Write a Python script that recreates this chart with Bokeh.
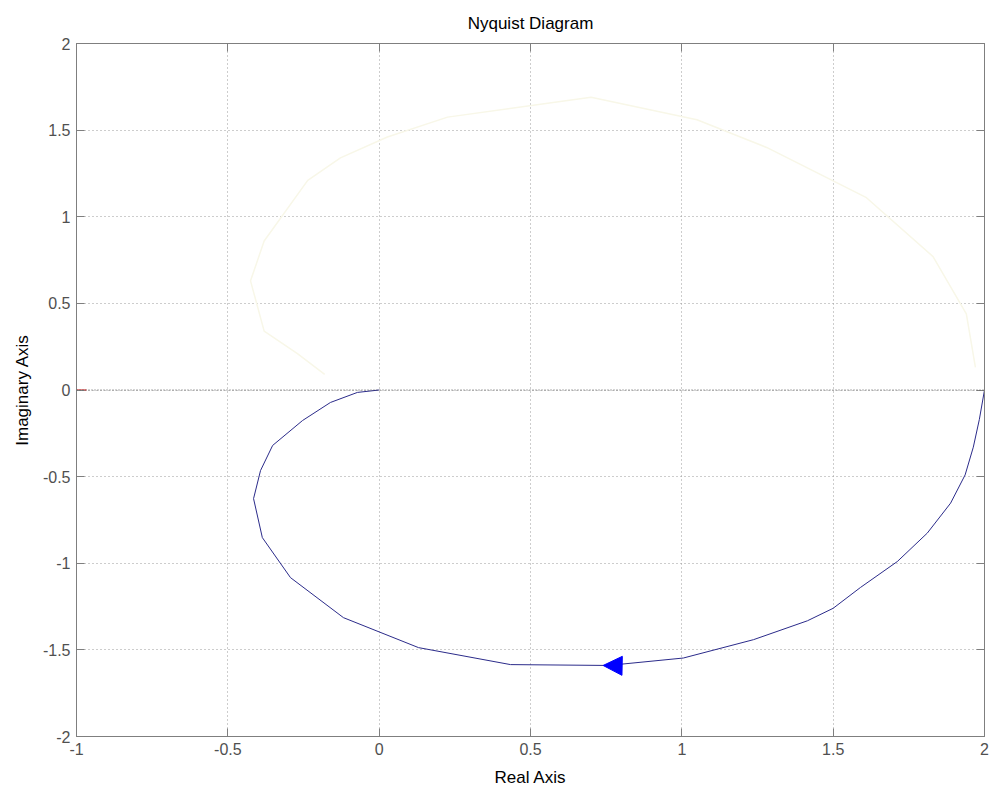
from bokeh.plotting import figure
from bokeh.models import Range1d, LinearAxis, FixedTicker, Arrow, NormalHead, Span
from bokeh.embed import file_html
from bokeh.resources import INLINE

# Nyquist curve (positive frequencies), real and imaginary parts
re_pos = [2.0, 1.983, 1.963, 1.936, 1.888, 1.811, 1.712, 1.59, 1.50, 1.415, 1.237,
          1.005, 0.757, 0.434, 0.130, -0.118, -0.293, -0.386, -0.415, -0.392,
          -0.352, -0.253, -0.161, -0.072, 0.0]
im_pos = [0.0, -0.17, -0.33, -0.49, -0.653, -0.826, -0.99, -1.14, -1.26, -1.332, -1.441,
          -1.547, -1.590, -1.585, -1.487, -1.314, -1.083, -0.852, -0.627, -0.465,
          -0.32, -0.176, -0.072, -0.014, 0.0]

# Faint mirror trace (negative frequencies)
re_neg = [1.97, 1.94, 1.83, 1.61, 1.28, 1.05, 0.70, 0.226, 0.027, -0.128, -0.236,
          -0.38, -0.425, -0.38, -0.27, -0.18]
im_neg = [0.13, 0.44, 0.77, 1.11, 1.40, 1.56, 1.69, 1.575, 1.46, 1.34, 1.21,
          0.86, 0.63, 0.34, 0.21, 0.09]

# Direction arrow (start -> end)
arrow_x = [0.80, 0.74]
arrow_y = [-1.592, -1.590]

# Critical point
crit_x = [-1.0]
crit_y = [0.0]

x_ticks = [-1, -0.5, 0, 0.5, 1, 1.5, 2]
y_ticks = [-2, -1.5, -1, -0.5, 0, 0.5, 1, 1.5, 2]
x_labels = ["-1", "-0.5", "0", "0.5", "1", "1.5", "2"]
y_labels = ["-2", "-1.5", "-1", "-0.5", "0", "0.5", "1", "1.5", "2"]

FONT = "Liberation Sans"
GRAY = "#7f7f7f"
LABEL = "#505050"

p = figure(width=990, height=793, output_backend="svg", toolbar_location=None,
           x_range=Range1d(-1, 2), y_range=Range1d(-2, 2),
           min_border_left=76, min_border_right=6, min_border_top=43, min_border_bottom=57)

p.title.text = "Nyquist Diagram"
p.title.align = "center"
p.title.text_font = FONT
p.title.text_font_size = "17px"
p.title.text_font_style = "normal"
p.title.text_color = "black"
p.title.offset = 0
p.title.standoff = 21

for ax, ticks, labels in ((p.xaxis[0], x_ticks, x_labels), (p.yaxis[0], y_ticks, y_labels)):
    ax.ticker = FixedTicker(ticks=ticks)
    ax.major_label_overrides = dict(zip(ticks, labels))
    ax.minor_tick_line_color = None
    ax.major_tick_in = 8
    ax.major_tick_out = 0
    ax.major_tick_line_color = GRAY
    ax.axis_line_color = GRAY
    ax.major_label_text_font = FONT
    ax.major_label_text_font_size = "16px"
    ax.major_label_text_color = LABEL
    ax.axis_label_text_font = FONT
    ax.axis_label_text_font_size = "17px"
    ax.axis_label_text_font_style = "normal"
    ax.axis_label_text_color = "black"
    ax.major_label_standoff = 6

p.xaxis[0].axis_label = "Real Axis"
p.yaxis[0].axis_label = "Imaginary Axis"
p.xaxis[0].axis_label_standoff = 10
p.yaxis[0].axis_label_standoff = 8

for loc, ticks in (("right", y_ticks), ("above", x_ticks)):
    ax = LinearAxis(ticker=FixedTicker(ticks=ticks))
    ax.minor_tick_line_color = None
    ax.major_tick_in = 8
    ax.major_tick_out = 0
    ax.major_tick_line_color = GRAY
    ax.axis_line_color = GRAY
    ax.major_label_text_font_size = "0px"
    ax.major_label_standoff = 0
    p.add_layout(ax, loc)

p.xgrid.ticker = FixedTicker(ticks=x_ticks)
p.ygrid.ticker = FixedTicker(ticks=y_ticks)
p.grid.grid_line_color = "#9a9a9a"
p.grid.grid_line_dash = "1 3"
p.grid.grid_line_width = 1
p.outline_line_color = GRAY

# zero line
p.add_layout(Span(location=0, dimension="width", line_color="#555555",
                  line_dash="1 2", line_width=1))

p.line(re_neg, im_neg, line_color="#f8f7e8", line_width=1.5)
p.line(re_pos, im_pos, line_color="#2b2b8a", line_width=1)

p.scatter(crit_x, crit_y, marker="cross", size=20, line_color="#cc0000", line_width=1)

p.add_layout(Arrow(end=NormalHead(size=19, fill_color="blue", line_color="blue"),
                   x_start=arrow_x[0], y_start=arrow_y[0],
                   x_end=arrow_x[1], y_end=arrow_y[1],
                   line_alpha=0))

p.background_fill_color = "white"
p.border_fill_color = "white"

open("out.html", "w").write(file_html(p, INLINE))
